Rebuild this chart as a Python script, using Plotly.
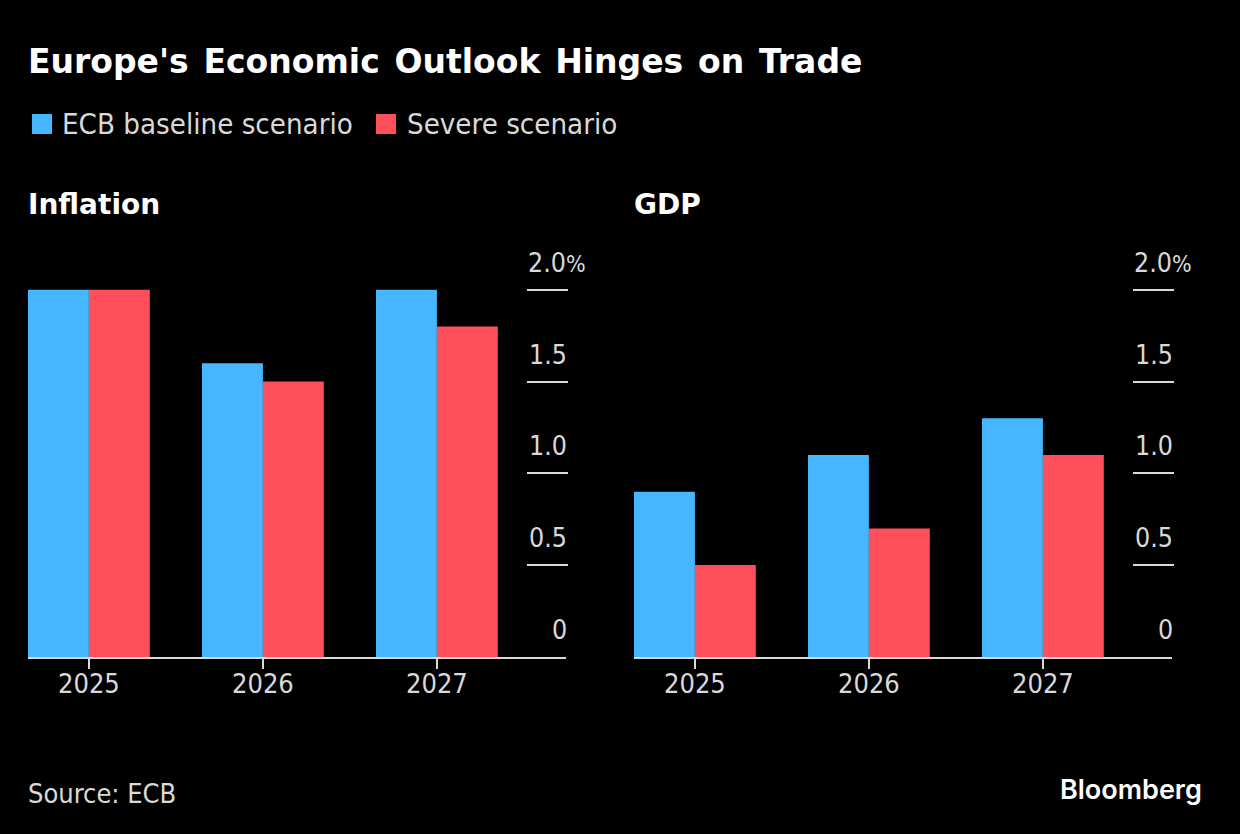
import plotly.graph_objects as go

W, H = 1240, 834

# values
years = ["2025", "2026", "2027"]
inflation_baseline = [2.0, 1.6, 2.0]
inflation_severe = [2.0, 1.5, 1.8]
gdp_baseline = [0.9, 1.1, 1.3]
gdp_severe = [0.5, 0.7, 1.1]
y_ticks = [0, 0.5, 1.0, 1.5, 2.0]
y_tick_labels = ["0", "0.5", "1.0", "1.5", "2.0"]

BLUE = "#45b6ff"
RED = "#ff4f5b"
TEXT = "#d9d9d9"
FONT = "DejaVu Sans Condensed, DejaVu Sans"
HAIR = "\u200a"  # the original font has wider word gaps


def px_x(v):
    return v / W


def px_y(v):
    return 1 - v / H


fig = go.Figure()

# bars
for suffix, base, severe in [("", inflation_baseline, inflation_severe), ("2", gdp_baseline, gdp_severe)]:
    fig.add_bar(x=years, y=base, name="ECB baseline scenario", marker_color=BLUE, marker_line_width=0,
                xaxis="x" + suffix, yaxis="y" + suffix, showlegend=False)
    fig.add_bar(x=years, y=severe, name="Severe scenario", marker_color=RED, marker_line_width=0,
                xaxis="x" + suffix, yaxis="y" + suffix, showlegend=False)

x_common = dict(
    type="category", range=[-0.35, 2.742], showgrid=False, zeroline=False,
    showline=True, linecolor=TEXT, linewidth=2,
    ticks="outside", ticklen=10, tickwidth=2, tickcolor=TEXT, ticklabelstandoff=-8,
    tickfont=dict(family=FONT, size=27, color=TEXT),
)
# axis runs a little past 2.0 so the top tick line is kept
y_top = 2.1
y_base_px = 656.9
y_top_px = y_base_px - y_top * 183.6
y_common = dict(
    range=[0, y_top], domain=[px_y(y_base_px), px_y(y_top_px)], showgrid=False, zeroline=False, showline=False,
    side="right", anchor="free", tickmode="array", tickvals=y_ticks[1:],
    ticks="inside", ticklen=41, tickwidth=2, tickcolor=TEXT, showticklabels=False,
)

fig.update_layout(
    width=W, height=H, margin=dict(l=0, r=0, t=0, b=0),
    paper_bgcolor="black", plot_bgcolor="rgba(0,0,0,0)",
    barmode="group", bargap=0.3, bargroupgap=0,
    xaxis=dict(x_common, domain=[px_x(28), px_x(566)], anchor="y"),
    xaxis2=dict(x_common, domain=[px_x(634), px_x(1172)], anchor="y2"),
    yaxis=dict(y_common, position=px_x(568)),
    yaxis2=dict(y_common, position=px_x(1174)),
)


def paper_text(text, x, y, size, color=TEXT, family=FONT, xanchor="left", bold=False, weight=None):
    fig.add_annotation(
        text="<b>%s</b>" % text if bold else text,
        xref="paper", yref="paper", x=px_x(x), y=px_y(y),
        xanchor=xanchor, yanchor="middle", showarrow=False,
        font=dict(family=family, size=size, color=color, weight=weight), borderpad=0, borderwidth=0,
    )


# title, subheads, source
title = "Europe's Economic Outlook Hinges on Trade".replace(" ", " " + HAIR)
paper_text(title, 28, 62, 33, "white", "DejaVu Sans", bold=True)
paper_text("Inflation", 28, 204, 28, "white", "DejaVu Sans", bold=True)
paper_text("GDP", 634, 204, 28, "white", "DejaVu Sans", bold=True)
paper_text("Source: ECB", 28, 793, 27)
paper_text("Bloomberg", 1060, 789, 27, "white", "Inter", weight=600)

# legend
for x0, color, label, x_text in [(32, BLUE, "ECB baseline scenario", 62), (376, RED, "Severe scenario", 407)]:
    fig.add_shape(type="rect", xref="paper", yref="paper", x0=px_x(x0), x1=px_x(x0 + 20),
                  y0=px_y(114), y1=px_y(134), fillcolor=color, line_width=0)
    paper_text(label, x_text, 124, 29.2)

# y tick labels sit above the tick lines
for xa, ya, right in [("x", "y", 568), ("x2", "y2", 1174)]:
    for val, label in zip(y_ticks, y_tick_labels):
        is_top = val == 2.0
        fig.add_annotation(
            text=label + ("<span style='font-size:23px'>%</span>" if is_top else ""),
            xref="paper", yref=ya, x=px_x(right - 41 if is_top else right), y=val,
            xanchor="left" if is_top else "right", yanchor="bottom", yshift=11,
            showarrow=False, borderpad=0, font=dict(family=FONT, size=26.5, color=TEXT),
        )

fig.write_html("out.html", config=dict(displayModeBar=False), post_script="document.body.style.margin='0';")
